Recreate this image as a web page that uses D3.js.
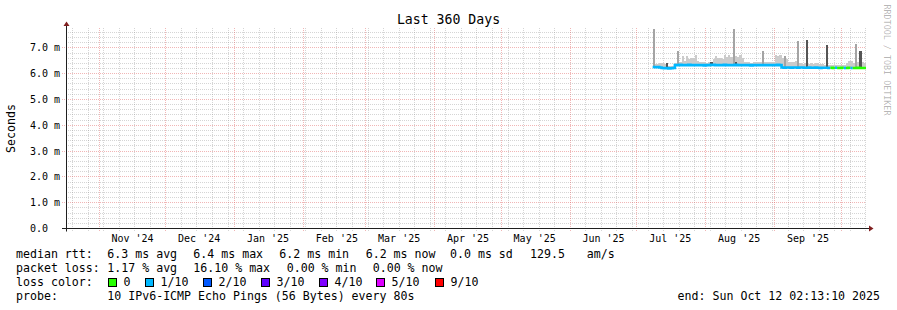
<!DOCTYPE html>
<html>
<head>
<meta charset="utf-8">
<script src="https://cdn.jsdelivr.net/npm/d3@7"></script>
<style>
    body { margin: 0; background: #fff; }
    svg { display: block; font-family: "DejaVu Sans Mono", monospace; }
</style>
</head>
<body>
<div id="graphContainer"></div>
<script>
"use strict";

// ---- data ----
const titleText = "Last 360 Days";
const yAxisLabel = "Seconds";
const endTime = new Date(2025, 9, 12, 2, 13, 10);
const spanDays = 360;
const yMax = 7.75; // ms at the top of the canvas

// one value per day, the last 96 days (Jul 8 .. Oct 12), in ms
const medianRtt = [
    6.26, 6.25, 6.26, 6.24, 6.22, 6.21, 6.22, 6.20, 6.21, 6.22,
    6.33, 6.33, 6.34, 6.33, 6.33, 6.33, 6.34, 6.33, 6.33, 6.33,
    6.33, 6.33, 6.33, 6.32, 6.33, 6.33, 6.34, 6.34, 6.33, 6.33,
    6.33, 6.33, 6.34, 6.33, 6.33, 6.33, 6.33, 6.34, 6.33, 6.33,
    6.33, 6.33, 6.33, 6.33, 6.32, 6.33, 6.33, 6.33, 6.33, 6.33,
    6.33, 6.33, 6.33, 6.33, 6.33, 6.33, 6.34, 6.33,
    6.24, 6.23, 6.24, 6.24, 6.23, 6.24, 6.24, 6.23, 6.24, 6.24,
    6.23, 6.23, 6.24, 6.23, 6.23, 6.24, 6.23, 6.22, 6.23, 6.23,
    6.23, 6.22, 6.23, 6.22, 6.23, 6.22, 6.22, 6.23, 6.22, 6.22,
    6.23, 6.22, 6.22, 6.22, 6.23, 6.22, 6.22, 6.22
];

// index into lossLabels / lossColors for each day
const lossBucket = [
    1, 1, 1, 1, 1, 1, 1, 1, 1, 1, 1, 1, 1, 1, 1, 1, 1, 1, 1, 1,
    1, 1, 1, 1, 1, 1, 1, 1, 1, 1, 1, 1, 1, 1, 1, 1, 1, 1, 1, 1,
    1, 1, 1, 1, 1, 1, 1, 1, 1, 1, 1, 1, 1, 1, 1, 1, 1, 1, 1, 1,
    1, 1, 1, 1, 1, 1, 1, 1, 1, 1, 1, 1, 1, 1, 1, 1, 1, 1, 1, 1,
    0, 0, 1, 0, 0, 0, 1, 0, 0, 1, 0, 0, 0, 0, 0, 0
];

// top of the light smoke for each day (ms)
const smokeLight = [
    6.30, 6.38, 6.36, 6.40, 6.40, 6.36, 6.34, 6.30, 6.30, 6.30,
    6.40, 6.50, 6.47, 6.69, 6.50, 6.68, 6.55, 6.62, 6.60, 6.72,
    6.48, 6.45, 6.44, 6.46, 6.42, 6.45, 6.44, 6.58, 6.68, 6.60,
    6.62, 6.58, 6.72, 6.66, 6.72, 6.64, 6.60, 6.70, 6.66, 6.73,
    6.62, 6.45, 6.44, 6.46, 6.42, 6.44, 6.45, 6.44, 6.46, 6.47,
    6.45, 6.44, 6.45, 6.46, 6.45, 6.72, 6.68, 6.73, 6.62, 6.60,
    6.55, 6.45, 6.44, 6.46, 6.48, 6.62, 6.40, 6.38, 6.40, 6.38,
    6.38, 6.40, 6.36, 6.40, 6.40, 6.38, 6.36, 6.34, 6.34, 6.33,
    6.32, 6.33, 6.32, 6.33, 6.34, 6.33, 6.32, 6.40, 6.48, 6.50,
    6.42, 6.45, 6.46, 6.47, 6.45, 6.40
];

// the few spikes in darker smoke: day index and top (ms)
const midSpikeDays = [0, 11, 36, 49, 59, 65, 91];
const midSpikeTops = [7.8, 6.86, 7.8, 6.86, 6.69, 7.27, 7.14];
const darkSpikeDays = [6, 26, 37, 57, 69, 78, 93];
const darkSpikeTops = [6.43, 6.47, 6.46, 6.38, 7.30, 7.10, 6.86];

// legend
const lossLabels = ["0", "1/10", "2/10", "3/10", "4/10", "5/10", "9/10"];
const lossColors = ["#26ff00", "#00b8ff", "#0059ff", "#5e00ff", "#7e00ff", "#dd00ff", "#ff0000"];
const rttLegend = ["median rtt:", "6.3 ms avg", "6.4 ms max", "6.2 ms min", "6.2 ms now", "0.0 ms sd", "129.5", "am/s"];
const lossLegend = ["packet loss:", "1.17 % avg", "16.10 % max", "0.00 % min", "0.00 % now"];
const probeLegend = ["probe:", "10 IPv6-ICMP Echo Pings (56 Bytes) every 80s"];
const endLegend = "end: Sun Oct 12 02:13:10 2025";
const watermark = "RRDTOOL / TOBI OETIKER";

// ---- layout ----
const graphInfo = {
    width: 897,
    height: 310,
    left: 66,
    right: 866,
    top: 28.5,
    bottom: 228.5,
    gridColor: "rgba(143,143,143,0.75)",
    majorGridColor: "rgba(222,79,79,0.6)",
    axisColor: "#1f1f1f",
    arrowColor: "#801f1f",
    lightSmoke: "#cbcbcb",
    midSmoke: "#a4a4a4",
    darkSmoke: "#555555"
};

const svg = d3.select("#graphContainer").append("svg")
    .attr("width", graphInfo.width)
    .attr("height", graphInfo.height);

svg.append("rect")
    .attr("width", graphInfo.width)
    .attr("height", graphInfo.height)
    .attr("fill", "#fff");

const startTime = d3.timeDay.offset(endTime, -spanDays);

const xScale = d3.scaleTime()
    .domain([startTime, endTime])
    .range([graphInfo.left, graphInfo.right]);

const yScale = d3.scaleLinear()
    .domain([0, yMax])
    .range([graphInfo.bottom, graphInfo.top])
    .clamp(true);

// snap to pixel centres
const px = v => Math.floor(v) + 0.5;

// ---- grid ----
const grid = svg.append("g").attr("fill", "none").attr("stroke-dasharray", "1,1");

const yMajor = yScale.ticks(8);
const yMinor = yScale.ticks(40).filter(v => !yMajor.some(m => Math.abs(m - v) < 1e-9));

grid.selectAll(".yMinor")
    .data(yMinor)
    .join("line")
    .attr("x1", graphInfo.left)
    .attr("x2", graphInfo.right)
    .attr("y1", d => px(yScale(d)))
    .attr("y2", d => px(yScale(d)))
    .attr("stroke", graphInfo.gridColor)
    .attr("stroke-width", 0.5);

const months = d3.timeMonth.range(startTime, endTime);
const weeks = d3.timeWeek.range(startTime, endTime)
    .filter(w => !months.some(m => +m === +w));

grid.selectAll(".xMinor")
    .data(weeks)
    .join("line")
    .attr("x1", d => px(xScale(d)))
    .attr("x2", d => px(xScale(d)))
    .attr("y1", graphInfo.top - 0.5)
    .attr("y2", graphInfo.bottom + 2.5)
    .attr("stroke", graphInfo.gridColor)
    .attr("stroke-width", 0.5);

grid.selectAll(".yMajor")
    .data(yMajor.filter(v => v > 0))
    .join("line")
    .attr("x1", graphInfo.left - 4)
    .attr("x2", graphInfo.right)
    .attr("y1", d => px(yScale(d)))
    .attr("y2", d => px(yScale(d)))
    .attr("stroke", graphInfo.majorGridColor)
    .attr("stroke-width", 0.7);

grid.selectAll(".xMajor")
    .data(months)
    .join("line")
    .attr("x1", d => px(xScale(d)))
    .attr("x2", d => px(xScale(d)))
    .attr("y1", graphInfo.top - 0.5)
    .attr("y2", graphInfo.bottom + 2.5)
    .attr("stroke", graphInfo.majorGridColor)
    .attr("stroke-width", 0.7);

// ---- smoke and median ----
const nDays = medianRtt.length;
const stepStart = i => d3.timeDay.offset(endTime, i - nDays);
const stepEnd = i => d3.timeDay.offset(endTime, i + 1 - nDays);

function SmokeBars(days, tops, color) {
    svg.append("g")
        .attr("fill", color)
        .attr("shape-rendering", "crispEdges")
        .selectAll("rect")
        .data(days.map((d, k) => ({ i: d, top: tops[k] })))
        .join("rect")
        .attr("x", d => xScale(stepStart(d.i)))
        .attr("width", d => xScale(stepEnd(d.i)) - xScale(stepStart(d.i)))
        .attr("y", d => yScale(d.top))
        .attr("height", d => Math.max(0, yScale(medianRtt[d.i]) - yScale(d.top)));
}

SmokeBars(d3.range(nDays), smokeLight, graphInfo.lightSmoke);
SmokeBars(midSpikeDays, midSpikeTops, graphInfo.midSmoke);
SmokeBars(darkSpikeDays, darkSpikeTops, graphInfo.darkSmoke);

// median line, split into runs of the same loss colour
const runs = [];
medianRtt.forEach((v, i) => {
    const last = runs[runs.length - 1];
    if (last && last.bucket === lossBucket[i]) last.idx.push(i);
    else runs.push({ bucket: lossBucket[i], idx: [i] });
});

const line = d3.line()
    .curve(d3.curveStepAfter)
    .x(d => xScale(d.t))
    .y(d => yScale(d.v));

svg.append("g")
    .attr("fill", "none")
    .attr("stroke-width", 2.6)
    .selectAll("path")
    .data(runs)
    .join("path")
    .attr("stroke", d => lossColors[d.bucket])
    .attr("d", d => {
        const pts = d.idx.map(i => ({ t: stepStart(i), v: medianRtt[i] }));
        const lastI = d.idx[d.idx.length - 1];
        pts.push({ t: stepEnd(lastI), v: medianRtt[lastI] });
        return line(pts);
    });

// ---- axes ----
svg.append("line")
    .attr("x1", graphInfo.left - 4)
    .attr("x2", graphInfo.right + 3)
    .attr("y1", graphInfo.bottom)
    .attr("y2", graphInfo.bottom)
    .attr("stroke", graphInfo.axisColor);

svg.append("line")
    .attr("x1", graphInfo.left + 0.5)
    .attr("x2", graphInfo.left + 0.5)
    .attr("y1", graphInfo.bottom + 3)
    .attr("y2", graphInfo.top - 3)
    .attr("stroke", graphInfo.axisColor);

svg.append("path")
    .attr("fill", graphInfo.arrowColor)
    .attr("d", `M${graphInfo.left - 2.5},${graphInfo.top - 2.5}L${graphInfo.left + 3.5},${graphInfo.top - 2.5}L${graphInfo.left + 0.5},${graphInfo.top - 7}Z`);

svg.append("path")
    .attr("fill", graphInfo.arrowColor)
    .attr("d", `M${graphInfo.right + 3},${graphInfo.bottom - 3}L${graphInfo.right + 3},${graphInfo.bottom + 3}L${graphInfo.right + 7.5},${graphInfo.bottom}Z`);

// y tick labels
svg.append("g")
    .attr("font-size", 10)
    .attr("fill", "#000")
    .selectAll("text")
    .data(yMajor)
    .join("text")
    .attr("x", 30)
    .attr("y", d => yScale(d) + 3.5)
    .text(d => d === 0 ? "0.0" : d3.format(".1f")(d) + " m");

// month labels centred half a month after the month start
const monthFormat = d3.timeFormat("%b '%y");
svg.append("g")
    .attr("font-size", 10)
    .attr("fill", "#000")
    .attr("text-anchor", "middle")
    .selectAll("text")
    .data(d3.timeMonth.range(d3.timeMonth.floor(startTime), endTime)
        .filter(m => {
            const c = d3.timeDay.offset(m, 15);
            return c > startTime && c < endTime;
        }))
    .join("text")
    .attr("x", d => xScale(d3.timeDay.offset(d, 15)))
    .attr("y", 241.5)
    .text(d => monthFormat(d));

// title and axis label
svg.append("text")
    .attr("x", graphInfo.width / 2)
    .attr("y", 24)
    .attr("text-anchor", "middle")
    .attr("font-size", 13.2)
    .text(titleText);

svg.append("text")
    .attr("transform", `translate(15,${(graphInfo.top + graphInfo.bottom) / 2}) rotate(-90)`)
    .attr("text-anchor", "middle")
    .attr("font-size", 11.6)
    .text(yAxisLabel);

svg.append("text")
    .attr("transform", "translate(884,60) rotate(90)")
    .attr("text-anchor", "middle")
    .attr("font-size", 8.4)
    .attr("fill", "rgba(0,0,0,0.3)")
    .text(watermark);

// ---- legend ----
const legend = svg.append("g")
    .attr("font-size", 11.6)
    .attr("fill", "#000")
    .style("white-space", "pre");

function LegendRow(items, xs, y) {
    items.forEach((t, k) => {
        legend.append("text").attr("x", xs[k]).attr("y", y).text(t);
    });
}

LegendRow(rttLegend, [16, 107.3, 193.3, 279.3, 365.7, 450, 530, 586.7], 258);
LegendRow(lossLegend, [16, 107.3, 193.3, 286.7, 372.7], 272);
LegendRow(["loss color:"], [16], 286);
LegendRow(probeLegend, [16, 107.3], 300);

legend.append("text")
    .attr("x", 880)
    .attr("y", 300)
    .attr("text-anchor", "end")
    .text(endLegend);

// loss colour swatches
const swatchX = [108.5, 145.5, 203.5, 261.5, 319.5, 376.5, 435.5];
lossLabels.forEach((lab, k) => {
    legend.append("rect")
        .attr("x", swatchX[k])
        .attr("y", 278.5)
        .attr("width", 8)
        .attr("height", 8)
        .attr("fill", lossColors[k])
        .attr("stroke", "#000")
        .attr("stroke-width", 1);
    legend.append("text")
        .attr("x", swatchX[k] + 15)
        .attr("y", 286)
        .text(lab);
});
</script>
</body>
</html>
